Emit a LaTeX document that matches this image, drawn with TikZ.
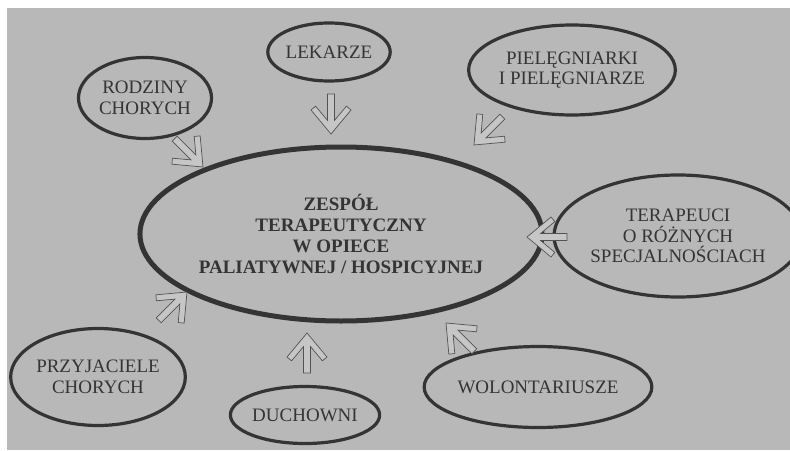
\documentclass[tikz,border=0pt]{standalone}
\usepackage{fontspec}
\setmainfont{Liberation Serif}
\usetikzlibrary{shapes.geometric}
\definecolor{pagegray}{RGB}{184,184,184}
\definecolor{inkgray}{RGB}{52,52,52}
\definecolor{arrowfill}{RGB}{198,198,198}

\begin{document}
\begin{tikzpicture}[
    x=1pt, y=-1pt,
    role/.style={ellipse, draw=inkgray, line width=3.2pt, inner sep=0pt, align=center, text=inkgray, font=\fontsize{19}{20.5}\selectfont},
    core/.style={role, line width=5pt, font=\fontsize{19}{21}\selectfont\bfseries},
    flowarrow/.pic={
        \draw[draw=inkgray!85, fill=arrowfill, line width=0.7pt, line join=miter]
            (0,0) -- (-24,-20) -- (-27.8,-15.4) -- (-13.6,-3.5) -- (-40,-3.5) -- (-40,3.5) -- (-13.6,3.5) -- (-27.8,15.4) -- (-24,20) -- cycle;
    }
]
    \useasboundingbox (0,0) rectangle (790,450);
    \fill[white] (0,0) rectangle (790,450);
    \fill[pagegray] (7,8) rectangle (790,450);

    % Team in the middle
    \node[core, minimum width=360pt, minimum height=174pt] (zesp) at (341,234) {ZESPÓŁ\\TERAPEUTYCZNY\\W OPIECE\\PALIATYWNEJ / HOSPICYJNEJ};

    % Members around it
    \node[role, minimum width=116pt, minimum height=58pt] (lek) at (329,52) {LEKARZE};
    \node[role, minimum width=197pt, minimum height=90pt] (piel) at (572,70) {PIELĘGNIARKI\\I PIELĘGNIARZE};
    \node[role, minimum width=133pt, minimum height=81pt] (rodz) at (145,98) {RODZINY\\CHORYCH};
    \node[role, minimum width=208pt, minimum height=122pt] (terap) at (678,236) {TERAPEUCI\\O RÓŻNYCH\\SPECJALNOŚCIACH};
    \node[role, minimum width=153pt, minimum height=97pt] (przyj) at (98,377) {PRZYJACIELE\\CHORYCH};
    \node[role, minimum width=148pt, minimum height=57pt] (duch) at (305,415) {DUCHOWNI};
    \node[role, minimum width=191pt, minimum height=81pt] (wolon) at (538,387) {WOLONTARIUSZE};

    % Arrows pointing at the team
    \pic[rotate=-90] at (331,134) {flowarrow};
    \pic[rotate=-45] at (203,167) {flowarrow};
    \pic[rotate=-135] at (474,145) {flowarrow};
    \pic[rotate=180] at (527,237) {flowarrow};
    \pic[rotate=135] at (446,323) {flowarrow};
    \pic[rotate=90] at (307,333) {flowarrow};
    \pic[rotate=45] at (187,292) {flowarrow};

\end{tikzpicture}
\end{document}
